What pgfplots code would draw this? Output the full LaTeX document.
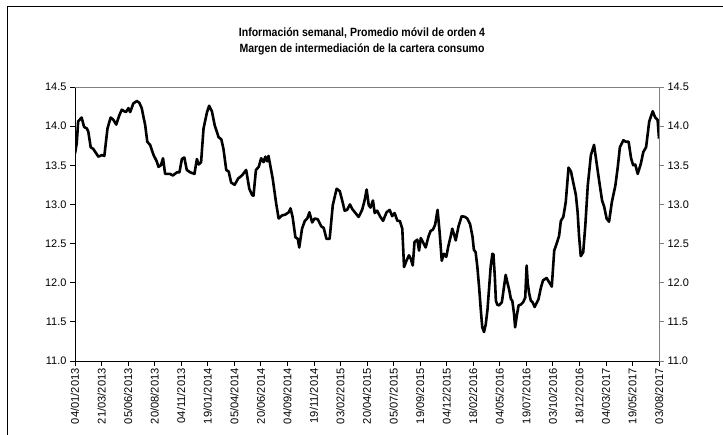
\documentclass[border=0pt]{standalone}
\usepackage{pgfplots}
\pgfplotsset{compat=1.18}
\usepackage{pgfplotstable}
\usepackage{fontspec}
\setmainfont{Liberation Sans}

\pgfplotstableread{
day val
0 13.65
5 13.78
9 14.06
19 14.11
26 13.99
34 13.97
38 13.93
45 13.73
52 13.71
67 13.61
77 13.63
84 13.62
93 13.97
102 14.11
110 14.08
118 14.02
127 14.14
134 14.21
141 14.19
146 14.18
153 14.23
158 14.18
167 14.29
177 14.32
184 14.30
191 14.23
201 14.01
207 13.80
215 13.76
225 13.63
234 13.55
239 13.48
246 13.50
252 13.59
258 13.39
272 13.39
280 13.37
292 13.41
299 13.41
306 13.58
313 13.60
320 13.44
330 13.41
342 13.39
349 13.58
354 13.51
361 13.54
368 13.97
378 14.18
384 14.26
392 14.19
400 14.01
411 13.86
419 13.83
425 13.71
433 13.44
440 13.42
447 13.28
457 13.25
467 13.33
478 13.37
490 13.44
499 13.20
507 13.12
511 13.11
518 13.44
526 13.48
533 13.59
540 13.54
545 13.61
550 13.55
554 13.62
566 13.33
576 13.01
583 12.82
593 12.86
602 12.87
612 12.90
617 12.95
623 12.84
631 12.58
638 12.56
642 12.45
650 12.69
658 12.79
665 12.82
671 12.90
679 12.77
686 12.82
695 12.81
705 12.72
712 12.70
720 12.56
729 12.56
738 12.99
749 13.20
758 13.17
765 13.05
772 12.92
779 12.93
787 13.00
794 12.94
803 12.89
812 12.84
822 12.93
829 13.05
835 13.19
841 12.99
846 12.96
853 13.05
858 12.89
865 12.92
873 12.85
882 12.79
892 12.90
901 12.93
908 12.85
915 12.89
923 12.79
930 12.79
937 12.69
942 12.20
949 12.28
956 12.35
961 12.31
967 12.22
972 12.52
980 12.55
985 12.41
990 12.57
996 12.52
1004 12.45
1012 12.59
1018 12.66
1025 12.68
1031 12.74
1038 12.93
1044 12.64
1050 12.28
1056 12.37
1063 12.33
1069 12.47
1076 12.60
1080 12.69
1085 12.62
1090 12.54
1098 12.72
1107 12.85
1117 12.84
1123 12.82
1131 12.75
1138 12.59
1142 12.42
1147 12.39
1152 12.20
1157 11.94
1162 11.64
1166 11.43
1171 11.37
1176 11.47
1181 11.66
1185 11.90
1190 12.20
1195 12.37
1198 12.36
1202 12.07
1205 11.77
1209 11.72
1214 11.71
1222 11.75
1228 11.94
1233 12.10
1238 12.00
1243 11.91
1248 11.79
1252 11.77
1257 11.60
1260 11.43
1265 11.58
1270 11.71
1276 11.72
1283 11.75
1289 11.81
1293 12.22
1296 12.00
1300 11.87
1305 11.77
1310 11.75
1316 11.69
1327 11.79
1334 11.94
1340 12.03
1350 12.06
1357 12.01
1365 11.95
1372 12.41
1379 12.50
1386 12.60
1391 12.79
1398 12.84
1405 13.03
1413 13.47
1420 13.42
1426 13.29
1434 13.12
1439 12.90
1443 12.60
1448 12.34
1455 12.39
1461 12.73
1468 13.24
1477 13.63
1486 13.76
1493 13.54
1501 13.29
1509 13.05
1515 12.97
1522 12.82
1529 12.78
1537 13.03
1547 13.24
1554 13.48
1560 13.73
1570 13.82
1577 13.80
1585 13.80
1592 13.59
1598 13.50
1604 13.51
1611 13.39
1620 13.52
1627 13.67
1635 13.73
1644 14.06
1654 14.19
1661 14.11
1668 14.08
1672 13.84
}\datatable

\begin{document}
\begin{tikzpicture}[x=1bp,y=1bp]
\useasboundingbox (0,0) rectangle (723,435);
\draw[line width=1bp] (7,-5) -- (7,428) -- (730,428);
\node[anchor=base,xscale=0.88,font=\fontsize{12}{14}\bfseries\selectfont] at (362,398) {Información semanal, Promedio móvil de orden 4};
\node[anchor=base,xscale=0.88,font=\fontsize{12}{14}\bfseries\selectfont] at (362,382) {Margen de intermediación de la cartera consumo};
\begin{axis}[
  at={(75bp,74bp)}, anchor=south west,
  scale only axis, width=584bp, height=274bp,
  xmin=0, xmax=1672, ymin=11, ymax=14.5,
  axis x line*=bottom, axis y line*=left,
  axis line style={-, black, line width=0.8bp},
  tick align=outside, major tick length=5bp,
  tick style={black, line width=0.8bp},
  xtick={0,76,...,1672},
  xticklabels={04/01/2013,21/03/2013,05/06/2013,20/08/2013,04/11/2013,19/01/2014,05/04/2014,20/06/2014,04/09/2014,19/11/2014,03/02/2015,20/04/2015,05/07/2015,19/09/2015,04/12/2015,18/02/2016,04/05/2016,19/07/2016,03/10/2016,18/12/2016,04/03/2017,19/05/2017,03/08/2017},
  x tick label style={rotate=90, anchor=east, font=\fontsize{11.2}{13}\selectfont, inner sep=2bp},
  ytick={11,11.5,...,14.5},
  y tick label style={font=\fontsize{11}{13}\selectfont, /pgf/number format/.cd, fixed, fixed zerofill, precision=1, assume math mode=true},
  minor tick num=0,
]
\addplot[black, line width=2.6bp, line join=round] table[x=day,y=val] {\datatable};
\end{axis}
\begin{axis}[
  at={(75bp,74bp)}, anchor=south west,
  scale only axis, width=584bp, height=274bp,
  xmin=0, xmax=1672, ymin=11, ymax=14.5,
  axis x line*=top, axis y line*=right,
  axis line style={-, gray, line width=0.8bp},
  xtick=\empty,
  tick align=outside, major tick length=5bp,
  tick style={gray, line width=0.8bp},
  ytick={11,11.5,...,14.5},
  y tick label style={font=\fontsize{11}{13}\selectfont, /pgf/number format/.cd, fixed, fixed zerofill, precision=1, assume math mode=true},
]
\end{axis}
\end{tikzpicture}
\end{document}
